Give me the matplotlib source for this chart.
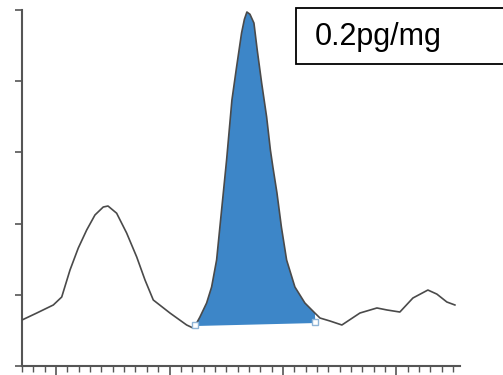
import matplotlib
matplotlib.use("Agg")
import matplotlib.pyplot as plt
from matplotlib.patches import Rectangle
from matplotlib.ticker import MultipleLocator, FixedLocator
import numpy as np

plt.rcParams['font.family'] = ['Liberation Sans', 'DejaVu Sans']

# Chromatogram trace (retention time, detector signal)
time = [0.00, 1.30, 2.76, 3.50, 4.23, 4.96, 5.70, 6.43, 7.16, 7.58, 8.34, 9.22,
        10.11, 10.84, 11.57, 13.04, 14.51, 15.07, 15.24, 15.68, 16.27, 16.71,
        17.15, 17.44, 17.74, 18.03, 18.24, 18.50, 18.91, 19.35, 19.60, 19.82, 20.09,
        20.44, 20.73, 21.12, 21.56, 21.89, 22.11, 22.47, 22.86, 23.32, 24.05,
        24.93, 25.81, 26.26, 27.14, 28.19, 29.78, 31.28, 32.16, 33.30, 34.45,
        35.77, 36.56, 37.44, 38.15]
signal = [0.646, 0.744, 0.857, 0.969, 1.348, 1.657, 1.910, 2.121, 2.233, 2.247,
          2.146, 1.868, 1.531, 1.208, 0.927, 0.744, 0.576, 0.534, 0.560, 0.688,
          0.885, 1.110, 1.489, 1.952, 2.430, 2.893, 3.270, 3.736, 4.199, 4.677,
          4.870, 4.972, 4.940, 4.817, 4.438, 3.975, 3.497, 3.034, 2.795, 2.430,
          1.952, 1.489, 1.110, 0.885, 0.744, 0.674, 0.632, 0.576, 0.744, 0.815,
          0.787, 0.758, 0.955, 1.067, 1.010, 0.899, 0.857]

# Integration baseline of the analyte peak (start and end points)
base_time = [15.24, 25.85]
base_signal = [0.576, 0.618]
label = "0.2pg/mg"

W, H = 503, 375
fig = plt.figure(figsize=(W / 100, H / 100), dpi=100)
ax = fig.add_axes([22 / W, 9 / H, 438 / W, 356 / H])

t = np.array(time)
s = np.array(signal)
mask = (t >= base_time[0]) & (t <= base_time[1])
poly_t = np.concatenate([[base_time[0]], t[mask], [base_time[1]]])
poly_s = np.concatenate([[base_signal[0]], s[mask], [base_signal[1]]])
ax.fill(poly_t, poly_s, color="#3d86c8", zorder=2, lw=0)
ax.plot(t, s, color="#4a4a4a", lw=1.2, zorder=3, solid_joinstyle="round")
ax.plot(base_time, base_signal, color="#3d86c8", lw=1.5, zorder=2)
ax.plot(base_time, base_signal, ls="none", marker="s",
        ms=5, mfc="white", mec="#8fb4d6", mew=1, zorder=4)

ax.set_xlim(0, 38.6)
ax.set_ylim(0, 5)
for side in ("top", "right"):
    ax.spines[side].set_visible(False)
for side in ("left", "bottom"):
    ax.spines[side].set_color("#555555")
    ax.spines[side].set_linewidth(1.5)
ax.yaxis.set_major_locator(MultipleLocator(1))
ax.xaxis.set_major_locator(FixedLocator([3, 13, 23, 33]))
ax.xaxis.set_minor_locator(MultipleLocator(1))
ax.tick_params(axis="y", direction="out", length=5, width=1.2, color="#555555", labelleft=False)
ax.tick_params(axis="x", which="major", direction="out", length=7, width=1.2, color="#555555", labelbottom=False)
ax.tick_params(axis="x", which="minor", direction="out", length=4, width=1.0, color="#555555")

fig.patches.append(Rectangle((296 / W, 1 - 64 / H), 220 / W, 56 / H, transform=fig.transFigure,
                             fill=True, facecolor="white", edgecolor="black", lw=1.3))
fig.text(315 / W, 1 - 37 / H, label, fontsize=22, va="center", ha="left", color="black")

fig.savefig("out.png", dpi=100)
